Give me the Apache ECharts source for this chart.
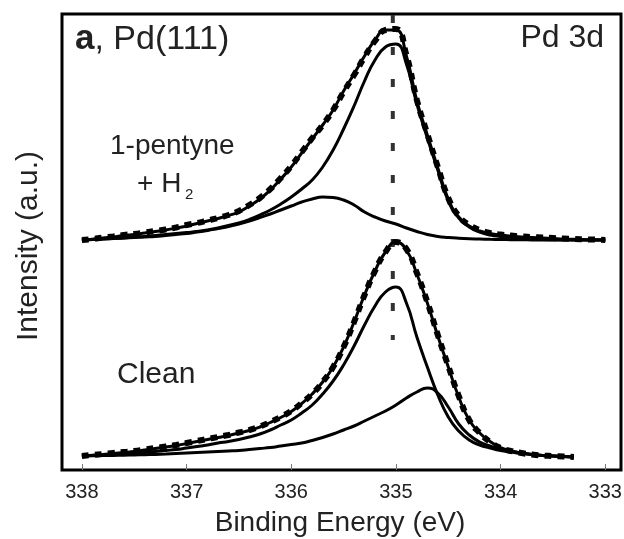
<!DOCTYPE html>
<html>
<head>
<meta charset="utf-8">
<script src="https://cdn.jsdelivr.net/npm/echarts@6/dist/echarts.min.js"></script>
<style>html,body{margin:0;padding:0;background:#fff}#c{width:624px;height:539px}</style>
</head>
<body>
<div id="c"></div>
<script>
// ---- data (binding energy in eV, intensity in arbitrary units) ----
var xTicks = [338, 337, 336, 335, 334, 333];

// top spectrum: 1-pentyne + H2, sampled every 0.1 eV from 338.0 down to 333.0
var topBE = [338.0, 337.9, 337.8, 337.7, 337.6, 337.5, 337.4, 337.3, 337.2, 337.1,
             337.0, 336.9, 336.8, 336.7, 336.6, 336.5, 336.4, 336.3, 336.2, 336.1,
             336.0, 335.9, 335.8, 335.7, 335.6, 335.5, 335.4, 335.3, 335.2, 335.1,
             335.0, 334.9, 334.8, 334.7, 334.6, 334.5, 334.4, 334.3, 334.2, 334.1,
             334.0, 333.9, 333.8, 333.7, 333.6, 333.5, 333.4, 333.3, 333.2, 333.1, 333.0];
var topData = [230, 231, 232.5, 233.5, 235, 236, 237.5, 239, 240.5, 242.5,
               245, 247, 249.5, 252, 255, 259, 265, 272, 281, 292,
               304, 318, 332, 345, 360, 378, 395, 413, 429, 440,
               441, 415, 370, 336, 303, 272, 254, 245, 240, 237,
               235.5, 234.5, 233.5, 233, 232.5, 232, 231.5, 231, 230.7, 230.4, 230];
var topFit = [230, 230.8, 232, 233, 234.5, 235.5, 237, 238.5, 240, 242,
              244, 246.5, 249, 251.5, 254.5, 258, 264, 271, 280, 291,
              303, 317, 331, 345, 360, 379, 396, 414, 430, 440,
              440, 414, 369, 335, 302, 271, 253, 244, 239, 236.5,
              235, 234, 233, 232.5, 232, 231.5, 231, 230.7, 230.4, 230.2, 230];
var topMain = [230, 230.5, 231, 231.5, 232, 233, 233.5, 234.5, 235.5, 236.5,
               237.5, 238.5, 240, 242, 244.5, 247, 250.5, 255, 260, 266,
               273, 281, 290, 303, 320, 341, 364, 389, 410, 423,
               426, 406, 366, 332, 300, 269, 252, 243, 238, 235,
               233.5, 232.5, 231.5, 231, 230.5, 230.3, 230.2, 230.1, 230, 230, 230];
var topSecond = [230, 230.5, 231, 231.5, 232, 232.5, 233, 233.5, 234.5, 235.5,
                 236.5, 238, 239.5, 241.5, 243.5, 246, 249, 252.5, 256, 260,
                 264, 268, 271, 273, 272.5, 270, 265, 258, 253, 249,
                 246, 242, 238.5, 235.5, 233.5, 232.5, 231.8, 231.3, 231, 230.7,
                 230.5, 230.3, 230.2, 230.1, 230, 230, 230, 230, 230, 230, 230];

// bottom spectrum: clean surface, sampled every 0.1 eV from 338.0 down to 333.3
var botBE = [338.0, 337.9, 337.8, 337.7, 337.6, 337.5, 337.4, 337.3, 337.2, 337.1,
             337.0, 336.9, 336.8, 336.7, 336.6, 336.5, 336.4, 336.3, 336.2, 336.1,
             336.0, 335.9, 335.8, 335.7, 335.6, 335.5, 335.4, 335.3, 335.2, 335.1,
             335.0, 334.9, 334.8, 334.7, 334.6, 334.5, 334.4, 334.3, 334.2, 334.1,
             334.0, 333.9, 333.8, 333.7, 333.6, 333.5, 333.4, 333.3];
var botData = [14, 15, 16, 17, 18, 19, 20.5, 22, 23.5, 25,
               27, 29, 31, 33, 35, 37.5, 40, 43.5, 48, 53,
               59, 67, 76, 88, 103, 123, 148, 175, 199, 218,
               228, 221, 197, 168, 135, 104, 74, 50, 37, 28,
               22, 19, 17, 15.5, 14.5, 14, 13.5, 13];
var botFit = [14, 14.8, 15.6, 16.5, 17.5, 18.5, 20, 21.5, 23, 24.5,
              26.5, 28.5, 30.5, 32.5, 34.5, 37, 39.5, 43, 47.5, 52.5,
              58.5, 66.5, 76, 88, 103, 123, 148, 175, 199, 218,
              228, 220, 196, 167, 134, 103, 73, 50, 37, 28.5,
              22.5, 19, 17, 15.5, 14.5, 14, 13.5, 13];
var botMain = [14, 14.5, 15, 15.5, 16, 17, 17.5, 18.5, 19.5, 20.5,
               22, 23.5, 25, 27, 28.5, 30.5, 33, 36, 40, 45,
               50, 57, 65, 76, 89, 105, 124, 145, 164, 178,
               183, 167, 133, 103, 75, 53, 39, 30, 25, 22,
               19.5, 18, 16.5, 15.5, 14.5, 14, 13.5, 13];
var botSecond = [14, 14.2, 14.4, 14.6, 14.8, 15, 15.3, 15.6, 16, 16.5,
                 17, 17.5, 18, 18.5, 19, 19.5, 20.5, 21.5, 22.5, 24,
                 25.5, 27, 29.5, 32.5, 36, 40, 44, 49, 54, 59,
                 65, 72, 78, 82, 77, 63, 46, 35, 28, 24,
                 21, 19, 17, 15.5, 14.5, 14, 13.5, 13];

var refBE = 335.03;            // vertical reference line position
var refSpan = [455, 130];      // its top and bottom intensity

function pairs(xs, ys) { return xs.map(function (x, i) { return [x, ys[i]]; }); }

var chart = echarts.init(document.getElementById('c'), null, { renderer: 'canvas' });
var FONT = '"Liberation Sans", Arial, sans-serif';

function solid(name, xs, ys, w) {
  return { name: name, type: 'line', data: pairs(xs, ys), showSymbol: false, smooth: 0.5,
    lineStyle: { color: '#000', width: w || 3 }, z: 3, silent: true, animation: false };
}
function dotted(name, xs, ys) {
  return { name: name, type: 'line', data: pairs(xs, ys), showSymbol: false, smooth: 0.5,
    lineStyle: { color: '#000', width: 6, type: [7, 6], cap: 'butt' }, z: 5, silent: true, animation: false };
}

chart.setOption({
  animation: false,
  grid: { left: 62, top: 14, right: 3, bottom: 69, show: true, borderColor: '#000', borderWidth: 3,
    backgroundColor: 'transparent', containLabel: false, outerBoundsMode: 'none' },
  xAxis: {
    type: 'value', min: 332.85, max: 338.19, inverse: true,
    axisLine: { show: false },
    splitLine: { show: false },
    axisTick: { show: true, inside: true, length: 6, lineStyle: { color: '#777', width: 1 }, customValues: xTicks },
    axisLabel: { show: true, margin: 12, color: '#222', fontSize: 20, fontFamily: FONT, customValues: xTicks, hideOverlap: false }
  },
  yAxis: {
    type: 'value', min: 0, max: 456,
    axisLine: { show: false }, axisTick: { show: false }, axisLabel: { show: false }, splitLine: { show: false }
  },
  series: [
    { name: 'ref', type: 'line', data: [[refBE, refSpan[0]], [refBE, refSpan[1]]], showSymbol: false,
      lineStyle: { color: '#333', width: 4, type: [8, 24], cap: 'butt' }, z: 1, silent: true },
    solid('topSecond', topBE, topSecond),
    solid('topMain', topBE, topMain),
    solid('topFit', topBE, topFit),
    dotted('topData', topBE, topData),
    solid('botSecond', botBE, botSecond),
    solid('botMain', botBE, botMain),
    solid('botFit', botBE, botFit),
    dotted('botData', botBE, botData)
  ],
  graphic: [
    { type: 'text', left: 75, top: 22, style: { text: '{b|a}, Pd(111)', fontSize: 34, fontFamily: FONT, fill: '#222',
      rich: { b: { fontSize: 35, fontWeight: 'bold', fontFamily: FONT, fill: '#222' } } } },
    { type: 'text', right: 20, top: 22, style: { text: 'Pd 3d', fontSize: 32, fontFamily: FONT, fill: '#222' } },
    { type: 'text', left: 110, top: 132, style: { text: '1-pentyne', fontSize: 28, fontFamily: FONT, fill: '#222' } },
    { type: 'text', left: 137, top: 170, style: { text: '+ H', fontSize: 28, fontFamily: FONT, fill: '#222' } },
    { type: 'text', left: 185, top: 187, style: { text: '2', fontSize: 15, fontFamily: FONT, fill: '#222' } },
    { type: 'text', left: 117, top: 360, style: { text: 'Clean', fontSize: 30, fontFamily: FONT, fill: '#222' } },
    { type: 'text', x: 340, y: 523, style: { text: 'Binding Energy (eV)', fontSize: 28, fontFamily: FONT, fill: '#222', align: 'center', verticalAlign: 'middle' } },
    { type: 'text', x: 29, y: 246, rotation: Math.PI / 2, style: { text: 'Intensity (a.u.)', fontSize: 30, fontFamily: FONT, fill: '#222', align: 'center', verticalAlign: 'middle' } }
  ]
});
</script>
</body>
</html>
